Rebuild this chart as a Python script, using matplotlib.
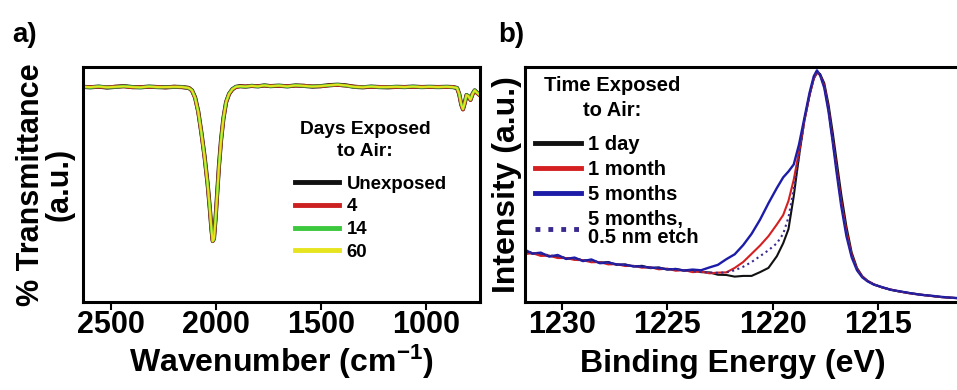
import matplotlib
matplotlib.use('Agg')
import matplotlib.pyplot as plt

plt.rcParams['font.family'] = ['Liberation Sans', 'DejaVu Sans']
plt.rcParams['font.weight'] = 'bold'
plt.rcParams['axes.labelweight'] = 'bold'
plt.rcParams['mathtext.fontset'] = 'custom'
plt.rcParams['mathtext.rm'] = 'Liberation Sans:bold'
plt.rcParams['mathtext.default'] = 'rm'

# ---- panel a: FTIR ----
wavenumber = [2635, 2600, 2560, 2520, 2480, 2440, 2400, 2360, 2320, 2280, 2240, 2200,
              2160, 2130, 2115, 2100, 2085, 2070, 2055, 2040, 2030, 2022, 2016, 2010,
              2002, 1994, 1986, 1976, 1965, 1952, 1938, 1922, 1905, 1885, 1860, 1830,
              1800, 1770, 1740, 1700, 1660, 1620, 1580, 1540, 1500, 1460, 1420, 1380,
              1340, 1300, 1260, 1220, 1180, 1140, 1100, 1060, 1020, 980, 940, 900,
              870, 850, 840, 830, 822, 814, 805, 796, 786, 776, 766, 755, 742]
t_unexposed = [0.915, 0.913, 0.916, 0.912, 0.915, 0.918, 0.914, 0.913, 0.916, 0.914, 0.913, 0.915,
               0.914, 0.910, 0.900, 0.870, 0.810, 0.720, 0.620, 0.500, 0.400, 0.310, 0.260, 0.270,
               0.360, 0.470, 0.580, 0.690, 0.780, 0.850, 0.885, 0.905, 0.915, 0.918, 0.916, 0.919,
               0.917, 0.921, 0.918, 0.920, 0.917, 0.921, 0.919, 0.916, 0.918, 0.922, 0.924, 0.921,
               0.915, 0.913, 0.916, 0.914, 0.913, 0.915, 0.914, 0.916, 0.914, 0.915, 0.914, 0.915,
               0.914, 0.910, 0.885, 0.840, 0.820, 0.845, 0.880, 0.875, 0.860, 0.885, 0.900, 0.890, 0.880]
t_4 = [0.914, 0.914, 0.915, 0.913, 0.916, 0.917, 0.913, 0.914, 0.915, 0.915, 0.912, 0.916,
       0.913, 0.911, 0.899, 0.868, 0.808, 0.718, 0.617, 0.498, 0.398, 0.308, 0.258, 0.268,
       0.358, 0.468, 0.578, 0.688, 0.779, 0.849, 0.884, 0.904, 0.914, 0.917, 0.917, 0.918,
       0.918, 0.920, 0.919, 0.919, 0.918, 0.920, 0.920, 0.917, 0.917, 0.921, 0.923, 0.920,
       0.916, 0.914, 0.915, 0.915, 0.914, 0.914, 0.915, 0.915, 0.915, 0.914, 0.915, 0.914,
       0.915, 0.909, 0.884, 0.838, 0.818, 0.843, 0.879, 0.874, 0.859, 0.884, 0.899, 0.889, 0.879]
t_14 = [0.916, 0.912, 0.917, 0.913, 0.914, 0.918, 0.915, 0.912, 0.917, 0.913, 0.914, 0.914,
        0.915, 0.909, 0.901, 0.869, 0.809, 0.719, 0.619, 0.499, 0.399, 0.309, 0.259, 0.269,
        0.359, 0.469, 0.579, 0.689, 0.781, 0.851, 0.886, 0.906, 0.916, 0.917, 0.915, 0.920,
        0.916, 0.922, 0.917, 0.921, 0.916, 0.922, 0.918, 0.917, 0.919, 0.921, 0.925, 0.920,
        0.914, 0.914, 0.917, 0.913, 0.914, 0.916, 0.913, 0.917, 0.913, 0.916, 0.913, 0.916,
        0.913, 0.911, 0.886, 0.841, 0.821, 0.846, 0.881, 0.876, 0.861, 0.886, 0.901, 0.891, 0.881]
t_60 = [0.915, 0.914, 0.916, 0.913, 0.915, 0.917, 0.914, 0.913, 0.916, 0.914, 0.914, 0.915,
        0.914, 0.910, 0.900, 0.869, 0.809, 0.719, 0.618, 0.499, 0.399, 0.309, 0.259, 0.269,
        0.359, 0.469, 0.579, 0.689, 0.780, 0.850, 0.885, 0.905, 0.915, 0.918, 0.916, 0.919,
        0.917, 0.921, 0.918, 0.920, 0.917, 0.921, 0.919, 0.916, 0.918, 0.922, 0.924, 0.921,
        0.915, 0.913, 0.916, 0.914, 0.914, 0.915, 0.914, 0.916, 0.914, 0.915, 0.914, 0.915,
        0.914, 0.910, 0.885, 0.840, 0.820, 0.845, 0.880, 0.875, 0.860, 0.885, 0.900, 0.890, 0.880]
ftir_labels = ['Unexposed', '4', '14', '60']
ftir_ticks = [2500, 2000, 1500, 1000]

# ---- panel b: XPS ----
energy = [1231.8, 1231.4, 1231.0, 1230.6, 1230.2, 1229.8, 1229.4, 1229.0, 1228.6, 1228.2,
          1227.8, 1227.4, 1227.0, 1226.6, 1226.2, 1225.8, 1225.4, 1225.0, 1224.6, 1224.2,
          1223.8, 1223.4, 1223.0, 1222.6, 1222.2, 1221.8, 1221.4, 1221.0, 1220.6, 1220.2,
          1219.8, 1219.5, 1219.25, 1219.0, 1218.75, 1218.5, 1218.25, 1218.05, 1217.9, 1217.75,
          1217.55, 1217.35, 1217.15, 1216.95, 1216.75, 1216.5, 1216.25, 1216.0, 1215.75, 1215.5,
          1215.2, 1214.8, 1214.4, 1214.0, 1213.5, 1213.0, 1212.5, 1212.0, 1211.5, 1211.0]
i_1day = [0.215, 0.206, 0.205, 0.196, 0.195, 0.186, 0.186, 0.177, 0.178, 0.167,
          0.170, 0.158, 0.160, 0.151, 0.154, 0.144, 0.147, 0.138, 0.141, 0.133,
          0.136, 0.127, 0.126, 0.116, 0.115, 0.108, 0.111, 0.111, 0.127, 0.145,
          0.195, 0.250, 0.310, 0.450, 0.620, 0.770, 0.880, 0.950, 0.975, 0.970,
          0.930, 0.840, 0.720, 0.590, 0.460, 0.320, 0.210, 0.145, 0.110, 0.090,
          0.075, 0.062, 0.052, 0.045, 0.038, 0.032, 0.026, 0.021, 0.018, 0.015]
i_1month = [0.203, 0.208, 0.196, 0.197, 0.187, 0.187, 0.179, 0.178, 0.169, 0.170,
            0.160, 0.161, 0.153, 0.154, 0.146, 0.148, 0.139, 0.142, 0.133, 0.136,
            0.127, 0.130, 0.122, 0.125, 0.126, 0.145, 0.170, 0.205, 0.240, 0.280,
            0.330, 0.370, 0.430, 0.520, 0.640, 0.770, 0.880, 0.950, 0.975, 0.965,
            0.920, 0.820, 0.690, 0.560, 0.430, 0.300, 0.200, 0.140, 0.108, 0.090,
            0.075, 0.062, 0.053, 0.045, 0.037, 0.031, 0.026, 0.021, 0.018, 0.015]
i_5months = [0.224, 0.206, 0.210, 0.193, 0.200, 0.183, 0.189, 0.174, 0.181, 0.165,
             0.168, 0.160, 0.158, 0.152, 0.151, 0.146, 0.145, 0.139, 0.140, 0.134,
             0.138, 0.135, 0.147, 0.158, 0.182, 0.203, 0.242, 0.290, 0.350, 0.420,
             0.485, 0.530, 0.555, 0.585, 0.670, 0.780, 0.890, 0.960, 0.985, 0.965,
             0.910, 0.810, 0.680, 0.540, 0.410, 0.280, 0.190, 0.135, 0.105, 0.088,
             0.074, 0.063, 0.052, 0.046, 0.038, 0.031, 0.027, 0.022, 0.018, 0.016]
i_5months_etch = [0.218, 0.210, 0.204, 0.199, 0.194, 0.188, 0.183, 0.179, 0.174, 0.169,
                  0.166, 0.160, 0.157, 0.153, 0.150, 0.146, 0.143, 0.140, 0.137, 0.134,
                  0.131, 0.128, 0.126, 0.124, 0.126, 0.135, 0.150, 0.170, 0.195, 0.220,
                  0.250, 0.290, 0.360, 0.480, 0.620, 0.770, 0.880, 0.955, 0.980, 0.965,
                  0.915, 0.815, 0.685, 0.550, 0.420, 0.290, 0.195, 0.138, 0.106, 0.089,
                  0.075, 0.062, 0.053, 0.045, 0.037, 0.031, 0.026, 0.021, 0.018, 0.015]
xps_labels = ['1 day', '1 month', '5 months', '5 months,\n0.5 nm etch']
xps_ticks = [1230, 1225, 1220, 1215]

fig = plt.figure(figsize=(9.57, 3.90), dpi=100)

# panel a
ax1 = fig.add_axes([0.0867, 0.2256, 0.415, 0.603])
ax1.plot(wavenumber, t_unexposed, color='#111111', lw=3.0)
ax1.plot(wavenumber, t_4, color='#cc2020', lw=2.6)
ax1.plot(wavenumber, t_14, color='#3cc83c', lw=2.1)
ax1.plot(wavenumber, t_60, color='#e6e41e', lw=1.4)
ax1.set_xlim(2635, 740)
ax1.set_ylim(0, 1)
ax1.set_xticks(ftir_ticks)
ax1.set_yticks([])
ax1.set_xlabel('Wavenumber (cm$^{-1}$)', fontsize=23, labelpad=2)
ax1.set_ylabel('% Transmittance\n(a.u.)', fontsize=22, labelpad=6, linespacing=0.95)
leg1 = ax1.legend(ftir_labels, loc='upper left', bbox_to_anchor=(0.5, 0.592),
                  frameon=False, fontsize=13.4, handlelength=2.4, handletextpad=0.4,
                  labelspacing=0.3, borderpad=0.2)
for ln in leg1.get_lines():
    ln.set_linewidth(3.5)
ax1.text(0.71, 0.687, 'Days Exposed\nto Air:', transform=ax1.transAxes, fontsize=13.8,
         ha='center', va='center', multialignment='center', linespacing=1.35)
ax1.text(-0.179, 1.105, 'a)', transform=ax1.transAxes, fontsize=20, fontweight='bold',
         va='baseline')

# panel b
ax2 = fig.add_axes([0.5486, 0.2256, 0.4614, 0.603])
ax2.plot(energy, i_1day, color='#111111', lw=1.5)
ax2.plot(energy, i_1month, color='#d42020', lw=1.5)
ax2.plot(energy, i_5months, color='#1c1ca8', lw=1.7)
ax2.plot(energy, i_5months_etch, color='#3a2a90', lw=1.5, ls=':')
ax2.set_xlim(1231.75, 1210.8)
ax2.set_ylim(0, 1)
ax2.set_xticks(xps_ticks)
ax2.set_yticks([])
ax2.set_xlabel('Binding Energy (eV)', fontsize=23, labelpad=2)
ax2.xaxis.set_label_coords(0.47, -0.2)
ax2.set_ylabel('Intensity (a.u.)', fontsize=23, labelpad=2)
leg2 = ax2.legend(xps_labels, loc='upper left', bbox_to_anchor=(-0.01, 0.771),
                  frameon=False, fontsize=14.5, handlelength=2.3, handletextpad=0.35,
                  labelspacing=0.3, borderpad=0.2)
leg2.get_texts()[-1].set_linespacing(0.95)
for ln in leg2.get_lines():
    ln.set_linewidth(3.5)
ax2.text(0.197, 0.868, 'Time Exposed\nto Air:', transform=ax2.transAxes, fontsize=14.5,
         ha='center', va='center', multialignment='center', linespacing=1.4)
ax2.text(-0.061, 1.105, 'b)', transform=ax2.transAxes, fontsize=20, fontweight='bold',
         va='baseline')

for ax in (ax1, ax2):
    for sp in ax.spines.values():
        sp.set_linewidth(2.2)
    ax.tick_params(axis='x', direction='out', length=6, width=1.5, pad=0, labelsize=22)

fig.savefig('out.png', dpi=100)
